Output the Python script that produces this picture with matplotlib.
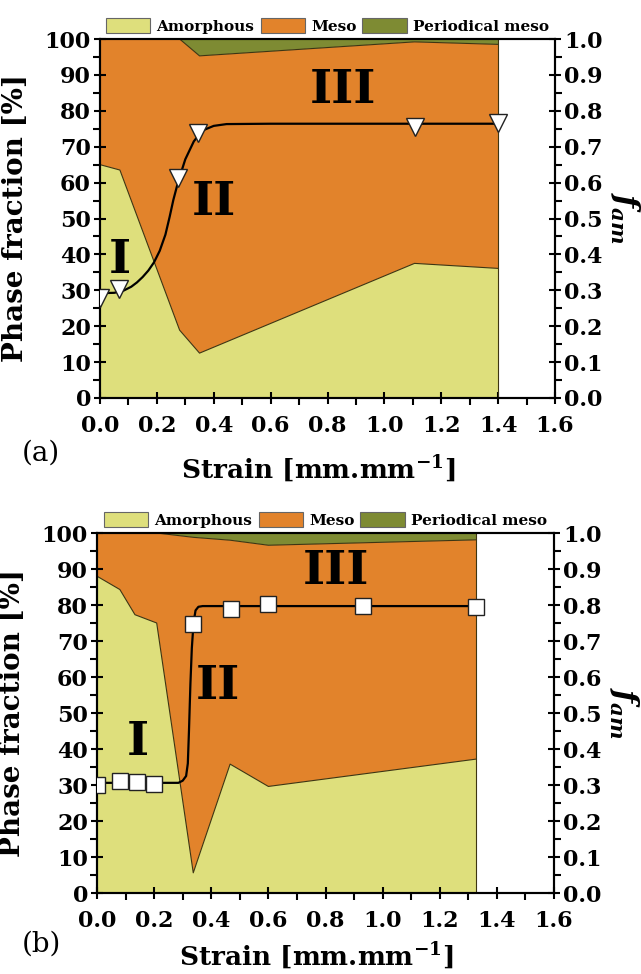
import numpy as np
import matplotlib
matplotlib.use("Agg")
import matplotlib.pyplot as plt
from matplotlib.patches import Patch
from matplotlib.ticker import MultipleLocator

plt.rcParams['font.family'] = 'DejaVu Serif'
plt.rcParams['font.weight'] = 'bold'
plt.rcParams['mathtext.fontset'] = 'custom'
plt.rcParams['mathtext.it'] = 'DejaVu Serif:italic:bold'
plt.rcParams['mathtext.rm'] = 'DejaVu Serif:bold'

# ---- panel (a) ----
strain_a = [0.0, 0.07, 0.28, 0.35, 1.106, 1.40]
amorph_a = [65.0, 63.5, 18.9, 12.5, 37.5, 36.1]
meso_top_a = [100.0, 100.0, 100.0, 95.3, 99.2, 98.5]   # amorphous + meso

fam_x_a = [0.0, 0.068, 0.275, 0.346, 1.106, 1.40]
fam_a = [0.278, 0.303, 0.612, 0.737, 0.755, 0.765]

fit_x_a = [0.0, 0.05, 0.08, 0.11, 0.13, 0.15, 0.17, 0.19, 0.21, 0.23, 0.245,
           0.258, 0.275, 0.30, 0.33, 0.36, 0.40, 0.445, 0.60, 1.00, 1.40]
fit_a = [0.292, 0.293, 0.298, 0.310, 0.322, 0.337, 0.355, 0.378, 0.410, 0.455,
         0.505, 0.552, 0.603, 0.665, 0.715, 0.745, 0.758, 0.763, 0.764, 0.764,
         0.764]

# ---- panel (b) ----
strain_b = [0.0, 0.08, 0.133, 0.209, 0.337, 0.466, 0.60, 1.328]
amorph_b = [88.0, 84.3, 77.3, 75.0, 5.6, 35.8, 29.6, 37.2]
meso_top_b = [100.0, 100.0, 100.0, 100.0, 98.8, 98.0, 96.6, 98.1]

fam_x_b = [0.0, 0.08, 0.14, 0.20, 0.337, 0.468, 0.60, 0.93, 1.328]
fam_b = [0.300, 0.312, 0.307, 0.303, 0.746, 0.789, 0.802, 0.796, 0.794]

fit_x_b = [0.0, 0.285, 0.30, 0.312, 0.318, 0.322, 0.327, 0.332, 0.338, 0.345,
           0.355, 0.37, 1.328]
fit_b = [0.306, 0.306, 0.312, 0.325, 0.360, 0.450, 0.580, 0.680, 0.750, 0.785,
         0.795, 0.797, 0.797]

c_am = '#DEDF7C'
c_meso = '#E2832B'
c_per = '#7E8B33'
c_edge = '#3D3512'

fig = plt.figure(figsize=(6.41, 9.74), dpi=100)


def panel(rect, x, am, top, fx, fy, cx, cy, marker, msize, romans, tag, tagpos, xlab_y):
    ax = fig.add_axes(rect)
    x = np.array(x)
    am = np.array(am)
    top = np.array(top)
    ax.fill_between(x, 0, am, facecolor=c_am, edgecolor='none')
    ax.fill_between(x, am, top, facecolor=c_meso, edgecolor='none')
    ax.fill_between(x, top, 100, facecolor=c_per, edgecolor='none')
    ax.plot(x, am, color=c_edge, lw=0.8)
    ax.plot(x, top, color=c_edge, lw=0.8)
    ax.plot([x[-1], x[-1]], [0, 100], color=c_edge, lw=0.8)

    ax.set_xlim(0, 1.6)
    ax.set_ylim(0, 100)
    ax.xaxis.set_major_locator(MultipleLocator(0.2))
    ax.xaxis.set_minor_locator(MultipleLocator(0.1))
    ax.yaxis.set_major_locator(MultipleLocator(10))
    ax.yaxis.set_minor_locator(MultipleLocator(5))
    ax.xaxis.set_major_formatter(matplotlib.ticker.FormatStrFormatter('%.1f'))
    ax.tick_params(which='major', direction='inout', length=9, width=1.5,
                   labelsize=16, pad=2)
    ax.tick_params(axis='x', which='major', pad=8)
    ax.tick_params(which='minor', direction='out', length=5, width=1.5)
    ax.tick_params(top=False, right=False)
    for s in ax.spines.values():
        s.set_linewidth(1.5)

    ax.set_ylabel('Phase fraction [%]', fontsize=20, fontweight='bold')
    ax.yaxis.set_label_coords(-0.155, 0.5)
    ax.set_xlabel(r'Strain [mm.mm$^{\mathregular{-1}}$]', fontsize=19,
                  fontweight='bold')
    ax.xaxis.set_label_coords(0.48, xlab_y)

    for txt, (rx, ry) in romans:
        ax.text(rx, ry, txt, fontsize=34, fontweight='bold', ha='center',
                va='center', zorder=5)

    ax2 = ax.twinx()
    ax2.set_ylim(0, 1.0)
    ax2.yaxis.set_major_locator(MultipleLocator(0.1))
    ax2.yaxis.set_minor_locator(MultipleLocator(0.05))
    ax2.yaxis.set_major_formatter(matplotlib.ticker.FormatStrFormatter('%.1f'))
    ax2.tick_params(which='major', direction='inout', length=9, width=1.5,
                    labelsize=16, pad=2)
    ax2.tick_params(which='minor', direction='out', length=5, width=1.5)
    for s in ax2.spines.values():
        s.set_linewidth(1.5)
    ax2.plot(cx, cy, color='black', lw=1.6, zorder=3)
    ax2.plot(fx, fy, linestyle='none', marker=marker, ms=msize,
             mfc='white', mec='#222222', mew=1.0, zorder=4)
    ax2.set_ylabel(r'$f_{am}$', fontsize=22, rotation=270)
    ax2.yaxis.set_label_coords(1.19, 0.5)

    handles = [Patch(facecolor=c_am, edgecolor='#666666', lw=0.8, label='Amorphous'),
               Patch(facecolor=c_meso, edgecolor='#666666', lw=0.8, label='Meso'),
               Patch(facecolor=c_per, edgecolor='#666666', lw=0.8, label='Periodical meso')]
    ax.legend(handles=handles, loc='lower center', bbox_to_anchor=(0.5, 1.0),
              ncol=3, frameon=False, handlelength=2.9,
              handleheight=1.1, handletextpad=0.4, columnspacing=0.4,
              borderaxespad=0.25, borderpad=0.1,
              prop={'weight': 'bold', 'size': 11})

    fig.text(tagpos[0], tagpos[1], tag, fontsize=20, fontweight='normal',
             ha='center', va='center')
    return ax, ax2


panel([100 / 641, 1 - 398 / 974, 455 / 641, 359 / 974],
      strain_a, amorph_a, meso_top_a, fam_x_a, fam_a, fit_x_a, fit_a,
      'v', 13,
      [('I', (0.068, 38.4)), ('II', (0.40, 54.6)), ('III', (0.856, 85.8))],
      '(a)', (41 / 641, 1 - 453 / 974), -0.155)

panel([97 / 641, 1 - 893 / 974, 457 / 641, 360 / 974],
      strain_b, amorph_b, meso_top_b, fam_x_b, fam_b, fit_x_b, fit_b,
      's', 11,
      [('I', (0.143, 42.0)), ('II', (0.424, 57.4)), ('III', (0.837, 89.4))],
      '(b)', (41 / 641, 1 - 944 / 974), -0.132)

fig.savefig('out.png', dpi=100)
